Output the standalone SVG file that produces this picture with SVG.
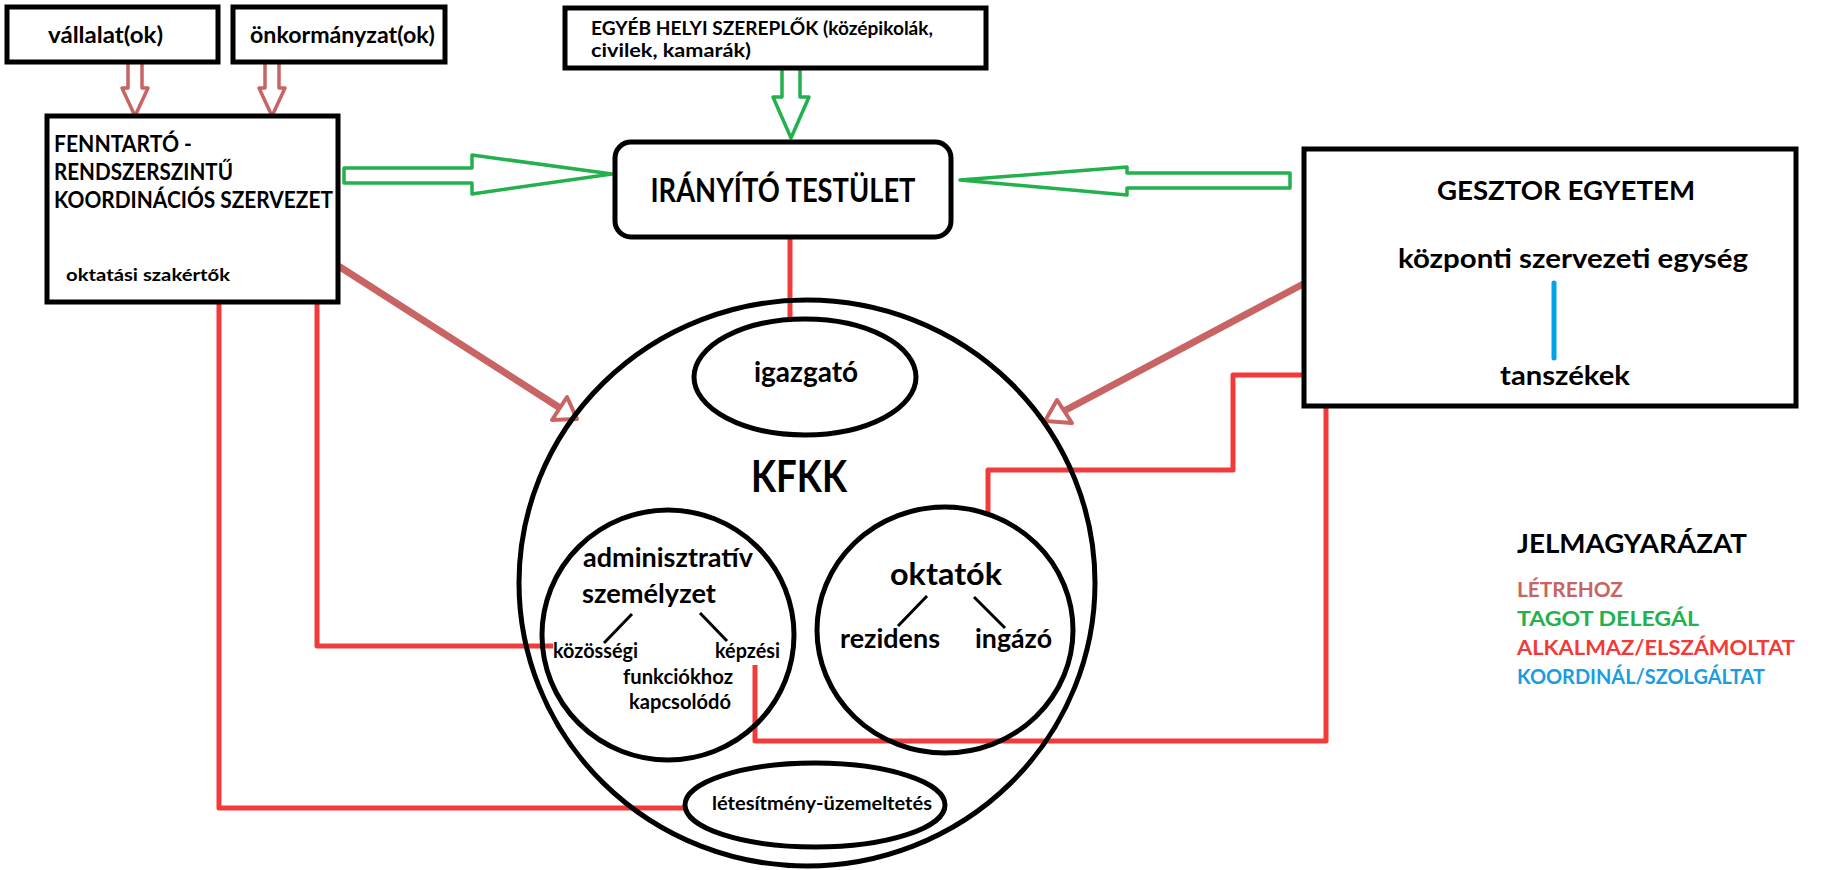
<svg xmlns="http://www.w3.org/2000/svg" width="1831" height="870" viewBox="0 0 1831 870">
<style>
.box{fill:#fff;stroke:#000;stroke-width:5}
.ell{fill:none;stroke:#000;stroke-width:5}
.t{font-family:Lato,'Open Sans',sans-serif;font-weight:bold;fill:#000}
.red{stroke:#f23a3a;stroke-width:5;fill:none;stroke-linejoin:round}
.pink{stroke:#c86464;stroke-width:7;fill:none;stroke-linecap:round}
.pinkhead{stroke:#c86464;stroke-width:4;fill:#fff;stroke-linejoin:round}
.pinkblock{stroke:#c86464;stroke-width:3.5;fill:#fff;stroke-linejoin:round}
.green{stroke:#22b14c;stroke-width:3.5;fill:#fff;stroke-linejoin:round}
.blk{stroke:#000;stroke-width:3;fill:none}
.blue{stroke:#00a2e8;stroke-width:5;stroke-linecap:round}
</style>
<rect width="1831" height="870" fill="#fff"/>
<g id="connectors">
  <polygon class="pinkblock" points="128,62 142,62 142,88 148,88 135,116 122,88 128,88"/>
  <polygon class="pinkblock" points="265,62 279,62 279,88 285,88 272,116 259,88 265,88"/>
  <polygon class="green" points="782,68 800,68 800,97 809,97 791,138 773,97 782,97"/>
  <polygon class="green" points="344,168 472,168 472,155 612,174 472,194 472,183 344,183"/>
  <polygon class="green" points="1290,173 1127,173 1127,167 960,180 1127,195 1127,188 1290,188"/>
  <line class="pink" x1="340" y1="267" x2="560" y2="408"/>
  <polygon class="pinkhead" points="552,420 567,397 577,419"/>
  <line class="pink" x1="1307" y1="282" x2="1064" y2="411"/>
  <polygon class="pinkhead" points="1057,400 1072,423 1045,421"/>
  <polyline class="red" points="790,237 790,320"/>
  <polyline class="red" points="317,302 317,646 553,646"/>
  <polyline class="red" points="219,302 219,808 685,808"/>
  <polyline class="red" points="755,665 755,741 1326,741 1326,406"/>
  <polyline class="red" points="988,513 988,470 1233,470 1233,375 1304,375"/>
</g>
<g id="vallalat">
  <rect class="box" x="7" y="7" width="211" height="55"/>
  <text class="t" x="48" y="43" font-size="22" textLength="115" lengthAdjust="spacingAndGlyphs">vállalat(ok)</text>
</g>
<g id="onkormanyzat">
  <rect class="box" x="233" y="7" width="212" height="55"/>
  <text class="t" x="250" y="43" font-size="22" textLength="185" lengthAdjust="spacingAndGlyphs">önkormányzat(ok)</text>
</g>
<g id="fenntarto">
  <rect class="box" x="47" y="116" width="291" height="186"/>
  <text class="t" x="54" y="152" font-size="22" textLength="138" lengthAdjust="spacingAndGlyphs">FENNTARTÓ -</text>
  <text class="t" x="54" y="180" font-size="22" textLength="179" lengthAdjust="spacingAndGlyphs">RENDSZERSZINTŰ</text>
  <text class="t" x="54" y="208" font-size="22" textLength="279" lengthAdjust="spacingAndGlyphs">KOORDINÁCIÓS SZERVEZET</text>
  <text class="t" x="66" y="281" font-size="17" textLength="164" lengthAdjust="spacingAndGlyphs">oktatási szakértők</text>
</g>
<g id="egyeb">
  <rect class="box" x="565" y="8" width="421" height="60"/>
  <text class="t" x="591" y="35" font-size="18" textLength="342" lengthAdjust="spacingAndGlyphs">EGYÉB HELYI SZEREPLŐK (középikolák,</text>
  <text class="t" x="591" y="57" font-size="18" textLength="160" lengthAdjust="spacingAndGlyphs">civilek, kamarák)</text>
</g>
<g id="iranyito">
  <rect class="box" x="615" y="142" width="336" height="95" rx="16"/>
  <text class="t" x="783" y="202" font-size="32" text-anchor="middle" textLength="265" lengthAdjust="spacingAndGlyphs">IRÁNYÍTÓ TESTÜLET</text>
</g>
<g id="gesztor">
  <rect class="box" x="1304" y="149" width="492" height="257"/>
  <text class="t" x="1437" y="200" font-size="26" textLength="258" lengthAdjust="spacingAndGlyphs">GESZTOR EGYETEM</text>
  <text class="t" x="1398" y="268" font-size="27" textLength="350" lengthAdjust="spacingAndGlyphs">központi szervezeti egység</text>
  <line class="blue" x1="1554" y1="283" x2="1554" y2="358"/>
  <text class="t" x="1500" y="385" font-size="27" textLength="130" lengthAdjust="spacingAndGlyphs">tanszékek</text>
</g>
<g id="kfkk">
  <ellipse class="ell" cx="807" cy="583" rx="288" ry="283"/>
  <text class="t" x="751" y="492" font-size="44" textLength="96" lengthAdjust="spacingAndGlyphs">KFKK</text>
</g>
<g id="igazgato">
  <ellipse class="ell" cx="805" cy="377" rx="111" ry="58"/>
  <text class="t" x="806" y="382" font-size="28" text-anchor="middle">igazgató</text>
</g>
<g id="adminisztrativ">
  <ellipse class="ell" cx="668" cy="635" rx="126" ry="125"/>
  <text class="t" x="583" y="567" font-size="27" textLength="170" lengthAdjust="spacingAndGlyphs">adminisztratív</text>
  <text class="t" x="582" y="603" font-size="27" textLength="134" lengthAdjust="spacingAndGlyphs">személyzet</text>
  <line class="blk" x1="632" y1="614" x2="604" y2="643"/>
  <line class="blk" x1="700" y1="613" x2="727" y2="641"/>
  <text class="t" x="553" y="658" font-size="20" textLength="85" lengthAdjust="spacingAndGlyphs">közösségi</text>
  <text class="t" x="715" y="658" font-size="20" textLength="65" lengthAdjust="spacingAndGlyphs">képzési</text>
  <text class="t" x="623" y="684" font-size="20" textLength="110" lengthAdjust="spacingAndGlyphs">funkciókhoz</text>
  <text class="t" x="629" y="709" font-size="20" textLength="102" lengthAdjust="spacingAndGlyphs">kapcsolódó</text>
</g>
<g id="oktatok">
  <ellipse class="ell" cx="945" cy="630" rx="128" ry="123"/>
  <text class="t" x="890" y="585" font-size="30" textLength="112" lengthAdjust="spacingAndGlyphs">oktatók</text>
  <line class="blk" x1="927" y1="596" x2="898" y2="626"/>
  <line class="blk" x1="974" y1="597" x2="1005" y2="628"/>
  <text class="t" x="840" y="648" font-size="26" textLength="100" lengthAdjust="spacingAndGlyphs">rezidens</text>
  <text class="t" x="975" y="648" font-size="26" textLength="77" lengthAdjust="spacingAndGlyphs">ingázó</text>
</g>
<g id="letesitmeny">
  <ellipse class="ell" cx="815" cy="805" rx="130" ry="42"/>
  <text class="t" x="712" y="810" font-size="19" textLength="220" lengthAdjust="spacingAndGlyphs">létesítmény-üzemeltetés</text>
</g>
<g id="legend">
  <text class="t" x="1517" y="553" font-size="27" textLength="230" lengthAdjust="spacingAndGlyphs">JELMAGYARÁZAT</text>
  <text class="t" x="1517" y="597" font-size="20" style="fill:#c86464" textLength="106" lengthAdjust="spacingAndGlyphs">LÉTREHOZ</text>
  <text class="t" x="1517" y="626" font-size="20" style="fill:#22b14c" textLength="182" lengthAdjust="spacingAndGlyphs">TAGOT DELEGÁL</text>
  <text class="t" x="1517" y="655" font-size="20" style="fill:#f23a3a" textLength="278" lengthAdjust="spacingAndGlyphs">ALKALMAZ/ELSZÁMOLTAT</text>
  <text class="t" x="1517" y="684" font-size="20" style="fill:#1a9de0" textLength="248" lengthAdjust="spacingAndGlyphs">KOORDINÁL/SZOLGÁLTAT</text>
</g>
</svg>
